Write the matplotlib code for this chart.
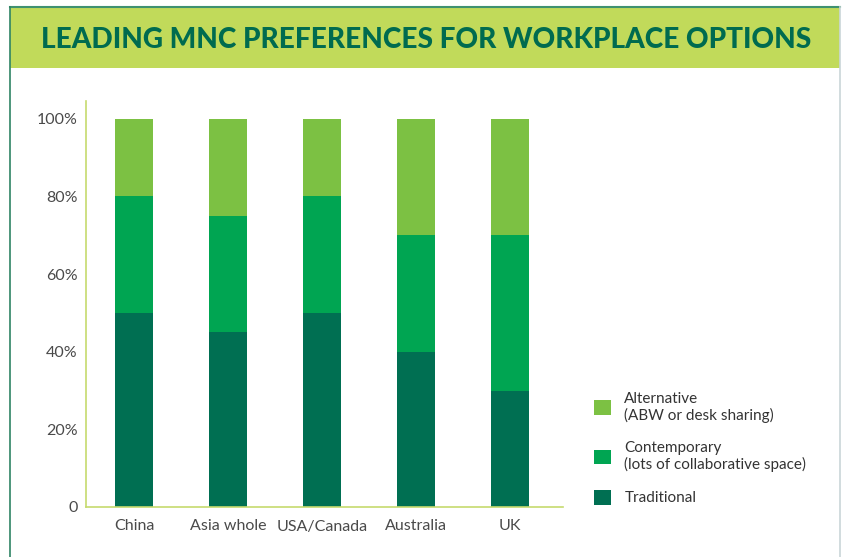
import numpy as np
import matplotlib
matplotlib.use("Agg")
import matplotlib.pyplot as plt
from matplotlib.patches import Rectangle, Patch
from matplotlib.lines import Line2D

# ---------------------------------------------------------------------------
# Data
# ---------------------------------------------------------------------------
regions = ["China", "Asia whole", "USA/Canada", "Australia", "UK"]
traditional = [50, 45, 50, 40, 30]
contemporary = [30, 30, 30, 30, 40]
alternative = [20, 25, 20, 30, 30]

series_labels = ["Alternative\n(ABW or desk sharing)",
                 "Contemporary\n(lots of collaborative space)",
                 "Traditional"]
yticks = [0, 20, 40, 60, 80, 100]
ytick_labels = ["0", "20%", "40%", "60%", "80%", "100%"]

title = "LEADING MNC PREFERENCES FOR WORKPLACE OPTIONS"

# colours
c_alt = "#7cc143"
c_con = "#00a552"
c_trad = "#006f52"
c_head = "#c1da5a"
c_title = "#006b4f"
c_axis = "#c6da6e"
c_text = "#4a4a4a"

plt.rcParams["font.family"] = ["Lato", "DejaVu Sans"]

W, H = 842, 557
fig = plt.figure(figsize=(W / 100, H / 100), dpi=100)

# frame and header band
fig.add_artist(Rectangle((10 / W, 1 - 68 / H), 830 / W, 61 / H,
                         transform=fig.transFigure, facecolor=c_head,
                         edgecolor="none"))
fig.add_artist(Line2D([10 / W, 840 / W], [1 - 7 / H, 1 - 7 / H],
                      transform=fig.transFigure, color="#3f9170", lw=1.5))
fig.add_artist(Line2D([10 / W, 10 / W], [0, 1 - 7 / H],
                      transform=fig.transFigure, color="#2f8465", lw=1.2))
fig.add_artist(Line2D([840 / W, 840 / W], [0, 1 - 7 / H],
                      transform=fig.transFigure, color="#c9d6d8", lw=1.2))
fig.text(426 / W, 1 - 40 / H, title, ha="center", va="center",
         fontsize=20.2, fontweight="black", color=c_title,
         family=["Lato", "DejaVu Sans"])

# axes
left, right, top, bottom = 86, 563, 101, 507
ax = fig.add_axes([left / W, 1 - bottom / H, (right - left) / W, (bottom - top) / H])

x = np.arange(len(regions))
bw = 0.40
trad = np.array(traditional)
con = np.array(contemporary)
alt = np.array(alternative)
ax.bar(x, trad, width=bw, color=c_trad, label=series_labels[2])
ax.bar(x, con, width=bw, bottom=trad, color=c_con, label=series_labels[1])
ax.bar(x, alt, width=bw, bottom=trad + con, color=c_alt, label=series_labels[0])

ax.set_xlim(-0.51, 4.56)
ax.set_ylim(0, 104.6)

ax.set_yticks(yticks)
ax.set_yticklabels(ytick_labels)
ax.set_xticks(x)
ax.set_xticklabels(regions)
ax.tick_params(axis="both", length=0, colors=c_text, labelsize=11.5)
ax.tick_params(axis="y", pad=6)
ax.tick_params(axis="x", pad=9)

for s in ["top", "right"]:
    ax.spines[s].set_visible(False)
for s in ["left", "bottom"]:
    ax.spines[s].set_color(c_axis)
    ax.spines[s].set_linewidth(1.2)

# legend
handles = [Patch(facecolor=c_alt), Patch(facecolor=c_con), Patch(facecolor=c_trad)]
leg = fig.legend(handles, series_labels, loc="upper left",
                 bbox_to_anchor=(580 / W, 1 - 378 / H), frameon=False,
                 fontsize=11, handlelength=1.1, handleheight=1.1,
                 handletextpad=0.9, labelspacing=1.15, labelcolor="#333333")

fig.savefig("out.png", dpi=100)
